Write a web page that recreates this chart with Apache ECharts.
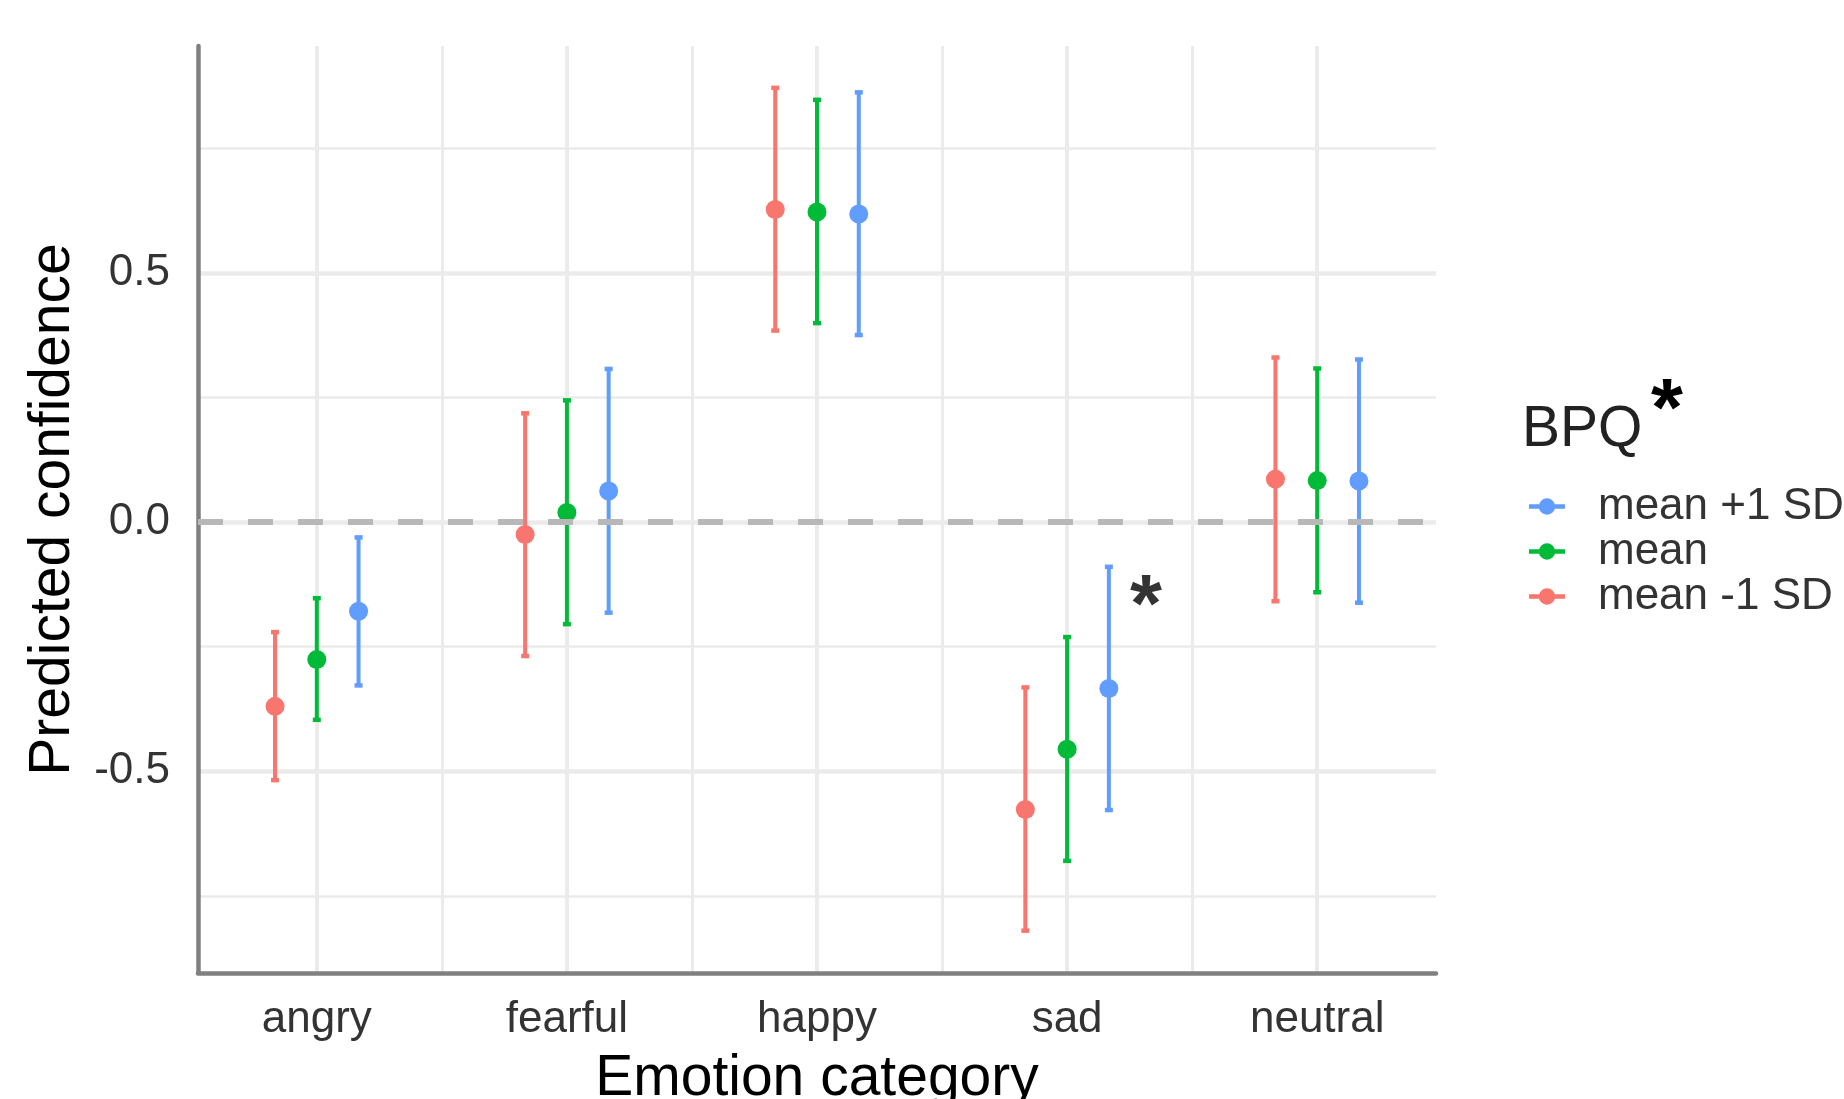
<!DOCTYPE html>
<html><head><meta charset="utf-8">
<script src="https://cdn.jsdelivr.net/npm/echarts@6/dist/echarts.min.js"></script>
<style>html,body{margin:0;padding:0;background:#fff}#c{width:1844px;height:1099px}</style>
</head><body><div id="c"></div>
<script>
// ---- data ----
const categories = ['angry', 'fearful', 'happy', 'sad', 'neutral'];
const groupNames = ['mean -1 SD', 'mean', 'mean +1 SD'];
const legendOrder = ['mean +1 SD', 'mean', 'mean -1 SD'];
const groupColors = ['#F8766D', '#00BA38', '#619CFF'];
const dodge = [-0.167, 0, 0.167];

const lowSdEst   = [-0.370, -0.025, 0.627, -0.577, 0.086];
const lowSdLower = [-0.518, -0.269, 0.384, -0.820, -0.159];
const lowSdUpper = [-0.221,  0.218, 0.871, -0.332, 0.330];

const meanEst    = [-0.276,  0.019, 0.622, -0.456, 0.083];
const meanLower  = [-0.397, -0.205, 0.399, -0.680, -0.141];
const meanUpper  = [-0.153,  0.244, 0.847, -0.231, 0.308];

const highSdEst   = [-0.179,  0.062, 0.618, -0.334, 0.082];
const highSdLower = [-0.328, -0.182, 0.375, -0.578, -0.162];
const highSdUpper = [-0.031,  0.307, 0.862, -0.090, 0.326];

const yTickLabels = ['-0.5', '0.0', '0.5'];
const sigMarkCategory = 'sad';

const estimates = [lowSdEst, meanEst, highSdEst];
const lowers = [lowSdLower, meanLower, highSdLower];
const uppers = [lowSdUpper, meanUpper, highSdUpper];

// ---- chart ----
const FONT = "'Liberation Sans', Arial, sans-serif";
const chart = echarts.init(document.getElementById('c'), null, {renderer: 'canvas'});

function renderErr(params, api) {
  const x = api.value(0), lo = api.value(1), hi = api.value(2);
  const top = api.coord([x, hi]), bot = api.coord([x, lo]);
  const color = api.visual('color');
  const cw = 4;
  return {
    type: 'group',
    children: [
      {type: 'line', shape: {x1: top[0], y1: top[1], x2: bot[0], y2: bot[1]}, style: {stroke: color, lineWidth: 4}},
      {type: 'line', shape: {x1: top[0] - cw, y1: top[1], x2: top[0] + cw, y2: top[1]}, style: {stroke: color, lineWidth: 4.5}},
      {type: 'line', shape: {x1: bot[0] - cw, y1: bot[1], x2: bot[0] + cw, y2: bot[1]}, style: {stroke: color, lineWidth: 4.5}}
    ]
  };
}

const series = [];
// zero reference line
series.push({
  type: 'line', name: '_zero', data: [], silent: true, z: 1,
  markLine: {
    silent: true, symbol: 'none', label: {show: false},
    lineStyle: {type: [25, 25], color: '#b8b8b8', width: 6},
    emphasis: {disabled: true},
    data: [{yAxis: 0}]
  }
});
for (let g = 0; g < 3; g++) {
  series.push({
    type: 'custom', name: groupNames[g], color: groupColors[g], z: 3,
    renderItem: renderErr,
    encode: {x: 0, y: [1, 2]},
    data: categories.map((c, i) => [i + 1 + dodge[g], lowers[g][i], uppers[g][i]])
  });
  series.push({
    type: 'scatter', name: groupNames[g], color: groupColors[g], z: 4,
    symbol: 'circle', symbolSize: 19,
    itemStyle: {opacity: 1},
    data: categories.map((c, i) => [i + 1 + dodge[g], estimates[g][i]])
  });
}
// significance asterisk next to sad (+1 SD)
const sadIdx = categories.indexOf(sigMarkCategory);
series.push({
  type: 'scatter', name: '_sig', symbolSize: 0, z: 5, silent: true,
  data: [[sadIdx + 1 + 0.315, -0.142]],
  label: {show: true, position: 'inside', formatter: '*', fontSize: 82, fontWeight: 'bold',
          color: '#000', fontFamily: FONT, offset: [0, 16]}
});

const legendIcon = 'path://M0,6 L36,6 L36,10.5 L0,10.5 Z M18,0 A8.2,8.2 0 1 1 17.99,0 Z';

chart.setOption({
  backgroundColor: '#ffffff',
  animation: false,
  grid: {left: 198, right: 408, top: 46, bottom: 126, containLabel: false, outerBoundsMode: 'none'},
  xAxis: {
    type: 'value', min: 0.525, max: 5.475, splitNumber: 5,
    name: 'Emotion category', nameLocation: 'middle', nameGap: 78,
    nameTextStyle: {fontSize: 57, color: '#000', fontFamily: FONT},
    axisLine: {show: true, onZero: false, lineStyle: {color: '#808080', width: 4.5}},
    axisTick: {show: false},
    axisLabel: {
      fontSize: 44, color: '#333', fontFamily: FONT, margin: 25,
      showMinLabel: false, showMaxLabel: false,
      formatter: v => {
        const r = Math.round(v);
        return Math.abs(v - r) < 1e-6 && r >= 1 && r <= categories.length ? categories[r - 1] : '';
      }
    },
    splitLine: {show: true, showMinLine: false, showMaxLine: false, lineStyle: {color: '#ebebeb', width: 4}},
    minorTick: {show: false, splitNumber: 2},
    minorSplitLine: {show: true, lineStyle: {color: '#ebebeb', width: 3}}
  },
  yAxis: {
    type: 'value', min: -0.905, max: 0.955, splitNumber: 4,
    name: 'Predicted confidence', nameLocation: 'middle', nameGap: 116,
    nameTextStyle: {fontSize: 57, color: '#000', fontFamily: FONT},
    axisLine: {show: true, onZero: false, lineStyle: {color: '#808080', width: 4.5}},
    axisTick: {show: false},
    axisLabel: {
      fontSize: 44, color: '#333', fontFamily: FONT, margin: 28,
      showMinLabel: false, showMaxLabel: false,
      formatter: v => {
        const r = Math.round(v * 2) / 2;
        if (Math.abs(v - r) > 1e-6) return '';
        const s = r.toFixed(1);
        return yTickLabels.indexOf(s) >= 0 ? s : '';
      }
    },
    splitLine: {show: true, showMinLine: false, showMaxLine: false, lineStyle: {color: '#ebebeb', width: 4.5}},
    minorTick: {show: false, splitNumber: 2},
    minorSplitLine: {show: true, lineStyle: {color: '#ebebeb', width: 2.5}}
  },
  legend: {
    orient: 'vertical', left: 1524, top: 479,
    itemWidth: 36, itemHeight: 16.5, itemGap: 0, selectedMode: false,
    textStyle: {fontSize: 44, color: '#333', fontFamily: FONT, lineHeight: 45, padding: [0, 0, 0, 28]},
    data: legendOrder.map(n => ({name: n, icon: legendIcon}))
  },
  graphic: [
    {type: 'text', left: 1522, top: 402, style: {text: 'BPQ', font: '57px ' + FONT, fill: '#222'}},
    {type: 'text', left: 1651, top: 371, style: {text: '*', font: 'bold 82px ' + FONT, fill: '#000'}}
  ],
  series: series
});
</script>
</body></html>
